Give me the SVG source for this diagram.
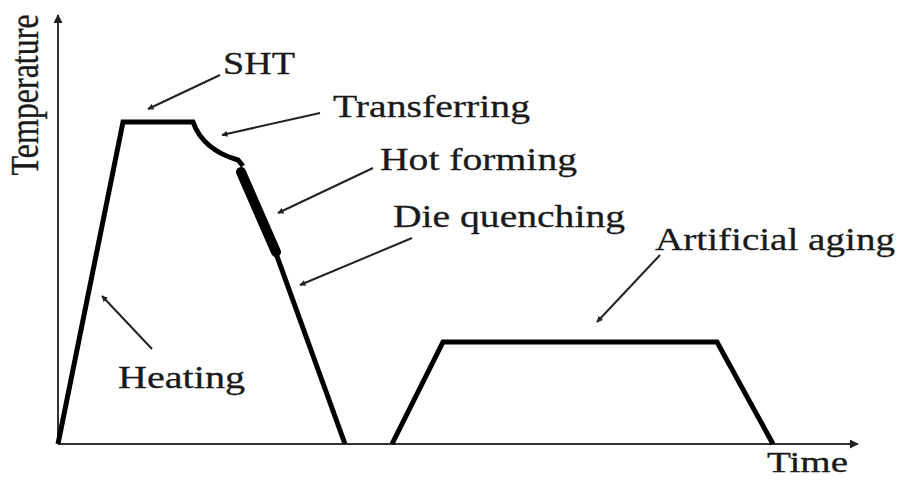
<svg xmlns="http://www.w3.org/2000/svg" width="905" height="480" viewBox="0 0 905 480">
<defs>
<marker id="ah" viewBox="0 0 10 10" refX="9" refY="5" markerWidth="7" markerHeight="6" orient="auto" markerUnits="userSpaceOnUse">
<path d="M0,0 L10,5 L0,10 z" fill="#222"/>
</marker>
<marker id="axh" viewBox="0 0 10 10" refX="9" refY="5" markerWidth="12" markerHeight="9" orient="auto" markerUnits="userSpaceOnUse">
<path d="M0,0 L10,5 L0,10 z" fill="#222"/>
</marker>
</defs>
<style>
text{font-family:"Liberation Serif","Times New Roman",serif;font-size:32px;fill:#1a1a1a;stroke:#1a1a1a;stroke-width:0.3}
.axis{stroke:#333;stroke-width:2;fill:none}
.curve{stroke:#000;stroke-width:5;fill:none;stroke-linejoin:miter}
.arr{stroke:#222;stroke-width:2;fill:none}
</style>
<rect width="905" height="480" fill="#fff"/>
<g id="axes">
<line class="axis" x1="58" y1="444" x2="58" y2="15" marker-end="url(#axh)"/>
<line class="axis" x1="58" y1="444" x2="858" y2="444" marker-end="url(#axh)"/>
<text transform="translate(38,95) scale(1.23,1) rotate(-90)" text-anchor="middle">Temperature</text>
<text x="767" y="472" style="font-size:30px" textLength="81" lengthAdjust="spacingAndGlyphs">Time</text>
</g>
<g id="process-curve">
<path class="curve" d="M58,444 L123,122 L193,122 Q203,150 238,160 L243,166"/>
<line x1="241" y1="172" x2="276" y2="252" stroke="#000" stroke-width="10" stroke-linecap="round"/>
<line class="curve" x1="274" y1="248" x2="345" y2="444"/>
<path class="curve" d="M392,444 L443,342 L717,342 L773,444"/>
</g>
<g id="connectors">
<line class="arr" x1="220" y1="75" x2="148" y2="109" marker-end="url(#ah)"/>
<line class="arr" x1="320" y1="113" x2="222" y2="135" marker-end="url(#ah)"/>
<line class="arr" x1="373" y1="168" x2="278" y2="213" marker-end="url(#ah)"/>
<line class="arr" x1="412" y1="238" x2="300" y2="285" marker-end="url(#ah)"/>
<line class="arr" x1="152" y1="349" x2="102" y2="296" marker-end="url(#ah)"/>
<line class="arr" x1="660" y1="255" x2="597" y2="322" marker-end="url(#ah)"/>
</g>
<g id="label-sht"><text x="223" y="74" textLength="72" lengthAdjust="spacingAndGlyphs">SHT</text></g>
<g id="label-transferring"><text x="333" y="117" textLength="197" lengthAdjust="spacingAndGlyphs">Transferring</text></g>
<g id="label-hot-forming"><text x="380" y="170" textLength="197" lengthAdjust="spacingAndGlyphs">Hot forming</text></g>
<g id="label-die-quenching"><text x="393" y="227" textLength="232" lengthAdjust="spacingAndGlyphs">Die quenching</text></g>
<g id="label-artificial-aging"><text x="655" y="250" textLength="240" lengthAdjust="spacingAndGlyphs">Artificial aging</text></g>
<g id="label-heating"><text x="118" y="388" textLength="127" lengthAdjust="spacingAndGlyphs">Heating</text></g>
</svg>
